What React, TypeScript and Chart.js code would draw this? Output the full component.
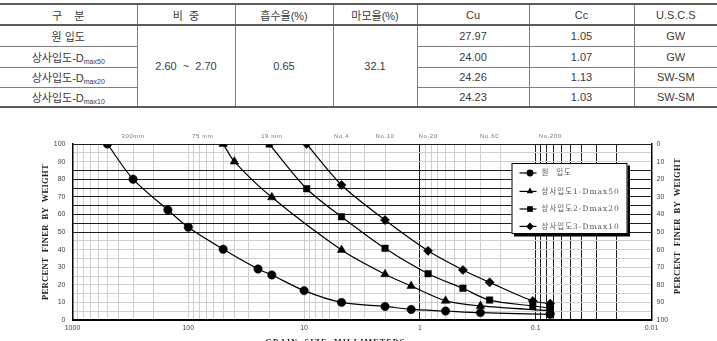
import React, { useEffect, useRef } from 'react';
import { Chart, registerables } from 'chart.js';

Chart.register(...registerables);

// ---------- table data ----------
const tableHeaders = ['구    분', '비  중', '흡수율(%)', '마모율(%)', 'Cu', 'Cc', 'U.S.C.S'];
const sampleBase = ['원 입도', '상사입도-D', '상사입도-D', '상사입도-D'];
const sampleSub = ['', 'max50', 'max20', 'max10'];
const specificGravity = '2.60  ~  2.70';
const absorption = '0.65';
const abrasion = '32.1';
const cuValues = ['27.97', '24.00', '24.26', '24.23'];
const ccValues = ['1.05', '1.07', '1.13', '1.03'];
const uscsValues = ['GW', 'GW', 'SW-SM', 'SW-SM'];

// ---------- chart data ----------
const seriesNames = ['원  입도', '상사입도1-Dmax50', '상사입도2-Dmax20', '상사입도3-Dmax10'];

const sizesOriginal = [500, 300, 150, 100, 50, 25, 19, 10, 4.75, 2, 1.19, 0.6, 0.3, 0.075];
const passOriginal = [100, 80, 62.5, 52.7, 40.2, 29, 25.6, 16.7, 10, 7.7, 6, 5.1, 4.2, 3.2];

const sizesD50 = [50, 40, 19, 4.75, 2, 1.19, 0.6, 0.3, 0.075];
const passD50 = [100, 90, 69.7, 39.8, 26, 19.3, 10.9, 8, 5.3];

const sizesD20 = [20, 9.5, 4.75, 2, 0.85, 0.425, 0.25, 0.106, 0.075];
const passD20 = [100, 74.6, 58.7, 40.7, 26.3, 18, 11.3, 8, 6.8];

const sizesD10 = [9.5, 4.75, 2, 0.85, 0.425, 0.25, 0.106, 0.075];
const passD10 = [100, 76.7, 56.8, 39.3, 28.4, 21.4, 10.8, 9.3];

const xTickValues = [1000, 100, 10, 1, 0.1, 0.01];
const xTickLabels = ['1000', '100', '10', '1', '0.1', '0.01'];
const yTickValues = [0, 10, 20, 30, 40, 50, 60, 70, 80, 90, 100];

const sieveLabels = ['300mm', '75 mm', '19 mm', 'No.4', 'No.10', 'No.20', 'No.60', 'No.200'];
const sieveSizes = [300, 75, 19, 4.75, 2, 0.85, 0.25, 0.075];

const pointStyles = ['circle', 'triangle', 'rect', 'rectRot'];
const pointRadii = [4.2, 5, 4.6, 4.6];

// grid helpers (axis structure, not data)
const xGridValues: number[] = [];
for (let e = -2; e <= 2; e++) {
  for (let m = 1; m <= 9; m++) xGridValues.push(+(m * Math.pow(10, e)).toPrecision(6));
}
xGridValues.push(1000);
const yGridValues: number[] = [];
for (let v = 0; v <= 100; v += 5) yGridValues.push(v);

const DARK = '#1e1e1e';
const LIGHT = '#cfcfcf';

function xIsDark(v: number) {
  if (Math.abs(v - 1) < 1e-9) return true;
  return v > 0.0100001 && v < 0.1000001;
}
function yIsDark(v: number) {
  return (v >= 50 && v <= 85) || v === 100;
}

function drawMarker(ctx: CanvasRenderingContext2D, style: string, x: number, y: number, r: number) {
  ctx.beginPath();
  if (style === 'circle') {
    ctx.arc(x, y, r, 0, Math.PI * 2);
  } else if (style === 'triangle') {
    ctx.moveTo(x, y - r);
    ctx.lineTo(x + r * 0.866, y + r * 0.5);
    ctx.lineTo(x - r * 0.866, y + r * 0.5);
    ctx.closePath();
  } else if (style === 'rect') {
    const s = r * 0.75;
    ctx.rect(x - s, y - s, 2 * s, 2 * s);
  } else {
    ctx.moveTo(x, y - r);
    ctx.lineTo(x + r, y);
    ctx.lineTo(x, y + r);
    ctx.lineTo(x - r, y);
    ctx.closePath();
  }
  ctx.fill();
}

const overlayPlugin = {
  id: 'overlay',
  afterDraw(chart: any) {
    const { ctx, chartArea: a, scales } = chart;
    const xs = scales.x;
    ctx.save();

    // sieve labels above plot
    ctx.font = '6px "Liberation Sans", Arial, sans-serif';
    ctx.fillStyle = '#777';
    ctx.textAlign = 'center';
    ctx.textBaseline = 'middle';
    (ctx as any).letterSpacing = '0.6px';
    sieveSizes.forEach((s, i) => {
      ctx.fillText(sieveLabels[i], xs.getPixelForValue(s), a.top - 8);
    });

    // axis titles
    ctx.fillStyle = '#222';
    ctx.font = 'bold 8.5px "Liberation Serif", "Times New Roman", serif';
    (ctx as any).letterSpacing = '0.3px';
    const midY = (a.top + a.bottom) / 2;
    ctx.save();
    ctx.translate(a.left - 26.5, midY);
    ctx.rotate(-Math.PI / 2);
    ctx.fillText('PERCENT  FINER  BY  WEIGHT', 0, 0);
    ctx.restore();
    ctx.save();
    ctx.translate(a.right + 26.5, midY - 6);
    ctx.rotate(-Math.PI / 2);
    ctx.fillText('PERCENT  FINER  BY  WEIGHT', 0, 0);
    ctx.restore();

    ctx.font = 'bold 8px "Liberation Serif", "Times New Roman", serif';
    (ctx as any).letterSpacing = '1.2px';
    ctx.textBaseline = 'top';
    ctx.fillText('GRAIN  SIZE  MILLIMETERS', a.left + 263, a.bottom + 18.5);

    // legend box
    const lx = a.left + 439;
    const ly = a.top + 19;
    const lw = 116;
    const lh = 71;
    ctx.fillStyle = '#000';
    ctx.fillRect(lx + 2.5, ly + 2.5, lw, lh);
    ctx.fillStyle = '#fff';
    ctx.fillRect(lx, ly, lw, lh);
    ctx.strokeStyle = '#000';
    ctx.lineWidth = 1;
    ctx.strokeRect(lx + 0.5, ly + 0.5, lw - 1, lh - 1);

    const rowOff = [10, 28.4, 46, 63.4];
    ctx.textAlign = 'left';
    ctx.textBaseline = 'middle';
    seriesNames.forEach((name, i) => {
      const y = ly + rowOff[i];
      ctx.strokeStyle = '#000';
      ctx.lineWidth = 1.2;
      ctx.beginPath();
      ctx.moveTo(lx + 8, y);
      ctx.lineTo(lx + 25, y);
      ctx.stroke();
      ctx.fillStyle = '#000';
      drawMarker(ctx, pointStyles[i], lx + 18.5, y, i === 0 ? 3.4 : 3.8);
      ctx.fillStyle = '#555';
      ctx.font = '7.5px "DejaVu Serif", "Noto Sans CJK KR", serif';
      (ctx as any).letterSpacing = '1px';
      ctx.fillText(name, lx + 30, y + 0.5);
    });

    ctx.restore();
  },
};

function makePoints(xs: number[], ys: number[]) {
  return xs.map((x, i) => ({ x, y: ys[i] }));
}

export default function App() {
  const ref = useRef<HTMLCanvasElement>(null);

  useEffect(() => {
    const canvas = ref.current;
    if (!canvas) return;
    const allSizes = [sizesOriginal, sizesD50, sizesD20, sizesD10];
    const allPass = [passOriginal, passD50, passD20, passD10];
    const chart = new Chart(canvas, {
      type: 'line',
      data: {
        datasets: seriesNames.map((name, i) => ({
          label: name,
          data: makePoints(allSizes[i], allPass[i]),
          borderColor: '#000',
          backgroundColor: '#000',
          borderWidth: 1.2,
          pointStyle: pointStyles[i] as any,
          pointRadius: pointRadii[i],
          pointBackgroundColor: '#000',
          pointBorderColor: '#000',
          pointBorderWidth: 0.5,
          tension: 0.3,
          fill: false,
          xAxisID: 'x',
          yAxisID: 'y',
        })),
      },
      options: {
        responsive: false,
        maintainAspectRatio: false,
        devicePixelRatio: 1,
        animation: false,
        events: [],
        layout: { padding: { top: 32, left: 0, right: 0, bottom: 0 } },
        plugins: {
          legend: { display: false },
          tooltip: { enabled: false },
        },
        scales: {
          x: {
            type: 'logarithmic',
            min: 0.01,
            max: 1000,
            reverse: true,
            afterBuildTicks: (s: any) => {
              s.ticks = xGridValues.map((v) => ({ value: v }));
            },
            afterFit: (s: any) => {
              s.height = 21;
            },
            ticks: {
              autoSkip: false,
              maxRotation: 0,
              minRotation: 0,
              padding: 4,
              color: '#444',
              font: { size: 7, family: '"Liberation Sans", Arial, sans-serif' },
              callback: (v: any) => {
                const idx = xTickValues.findIndex((t) => Math.abs(t - v) / t < 1e-6);
                return idx >= 0 ? xTickLabels[idx] : '';
              },
            },
            grid: {
              drawTicks: false,
              color: (c: any) => (c.tick && xIsDark(c.tick.value) ? DARK : LIGHT),
              lineWidth: 1,
            },
            border: { display: true, color: '#000', width: 2 },
          },
          y: {
            type: 'linear',
            position: 'left',
            min: 0,
            max: 100,
            afterBuildTicks: (s: any) => {
              s.ticks = yGridValues.map((v) => ({ value: v }));
            },
            afterFit: (s: any) => {
              s.width = 72.5;
            },
            ticks: {
              autoSkip: false,
              padding: 7,
              color: '#444',
              font: { size: 7, family: '"Liberation Sans", Arial, sans-serif' },
              callback: (v: any) => (yTickValues.includes(v) ? String(v) : ''),
            },
            grid: {
              drawTicks: false,
              color: (c: any) => (c.tick && yIsDark(c.tick.value) ? DARK : LIGHT),
              lineWidth: 1,
            },
            border: { display: true, color: '#000', width: 1.5 },
          },
          y2: {
            type: 'linear',
            position: 'right',
            min: 0,
            max: 100,
            reverse: true,
            afterBuildTicks: (s: any) => {
              s.ticks = yTickValues.map((v) => ({ value: v }));
            },
            afterFit: (s: any) => {
              s.width = 65.5;
            },
            ticks: {
              autoSkip: false,
              padding: 5,
              color: '#444',
              font: { size: 7, family: '"Liberation Sans", Arial, sans-serif' },
              callback: (v: any) => String(v),
            },
            grid: { display: false, drawTicks: false },
            border: { display: true, color: '#000', width: 1.5 },
          },
        },
      } as any,
      plugins: [overlayPlugin],
    });
    return () => chart.destroy();
  }, []);

  const colWidths = [137, 98, 98, 84, 112, 105, 83];
  const rowHeights = [21, 21, 20, 20];
  const lineCol = '1px solid #808080';
  const heavy = '2px solid #5a5a5a';
  const cell = (i: number, extra: any = {}) => ({
    padding: 0,
    textAlign: 'center' as const,
    verticalAlign: 'middle' as const,
    borderLeft: i === 0 ? 'none' : lineCol,
    borderRight: 'none',
    whiteSpace: 'pre' as const,
    ...extra,
  });

  return (
    <div
      style={{
        position: 'fixed',
        left: 0,
        top: 0,
        width: 717,
        height: 341,
        background: '#fff',
        overflow: 'hidden',
      }}
    >
      <table
        style={{
          position: 'absolute',
          left: 0,
          top: 3,
          width: 717,
          borderCollapse: 'collapse',
          tableLayout: 'fixed',
          fontFamily: '"Liberation Sans", "Noto Sans CJK KR", Arial, sans-serif',
          fontSize: 11,
          color: '#3a3a3a',
        }}
      >
        <colgroup>
          {colWidths.map((w, i) => (
            <col key={i} style={{ width: w }} />
          ))}
        </colgroup>
        <thead>
          <tr style={{ height: 21 }}>
            {tableHeaders.map((h, i) => (
              <th
                key={i}
                style={cell(i, { fontWeight: 'normal', borderTop: heavy, borderBottom: heavy })}
              >
                {h}
              </th>
            ))}
          </tr>
        </thead>
        <tbody>
          {sampleBase.map((name, r) => (
            <tr key={r} style={{ height: rowHeights[r] }}>
              <td
                style={cell(0, {
                  borderBottom: r === sampleBase.length - 1 ? heavy : lineCol,
                })}
              >
                {name}
                {sampleSub[r] ? (
                  <span style={{ fontSize: 7, position: 'relative', top: 2 }}>{sampleSub[r]}</span>
                ) : null}
              </td>
              {r === 0 ? (
                <>
                  <td rowSpan={4} style={cell(1, { borderBottom: heavy })}>
                    {specificGravity}
                  </td>
                  <td rowSpan={4} style={cell(2, { borderBottom: heavy })}>
                    {absorption}
                  </td>
                  <td rowSpan={4} style={cell(3, { borderBottom: heavy })}>
                    {abrasion}
                  </td>
                </>
              ) : null}
              {[cuValues[r], ccValues[r], uscsValues[r]].map((v, k) => (
                <td
                  key={k}
                  style={cell(4 + k, {
                    borderBottom: r === sampleBase.length - 1 ? heavy : lineCol,
                  })}
                >
                  {v}
                </td>
              ))}
            </tr>
          ))}
        </tbody>
      </table>
      <canvas
        ref={ref}
        width={717}
        height={229}
        style={{ position: 'absolute', left: 0, top: 112, width: 717, height: 229 }}
      />
    </div>
  );
}
